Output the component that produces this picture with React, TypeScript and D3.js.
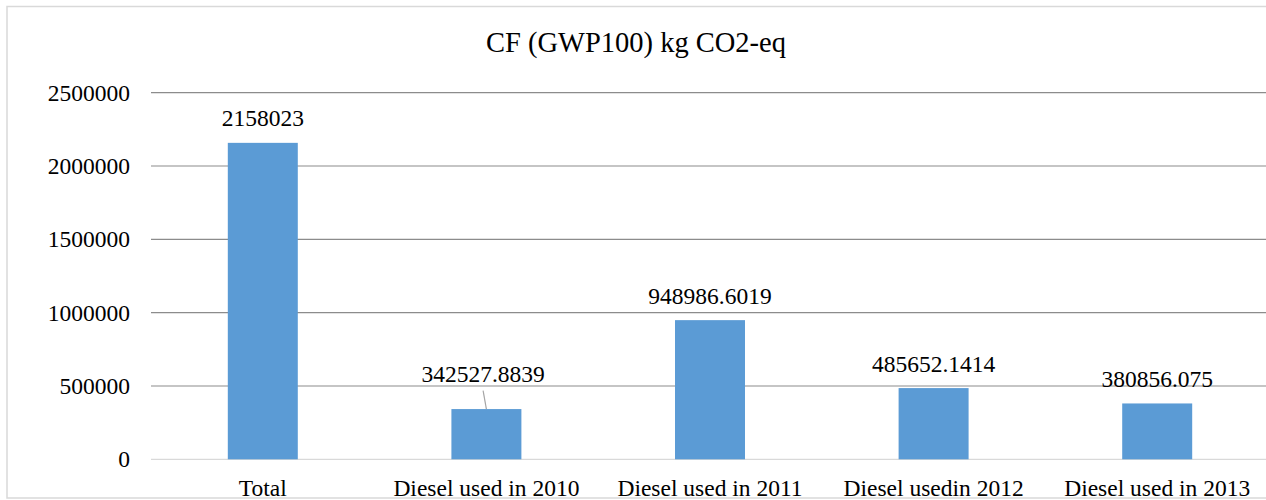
import React from "react";
import * as d3 from "d3";

const categories = [
  "Total",
  "Diesel used in 2010",
  "Diesel used in 2011",
  "Diesel usedin 2012",
  "Diesel used in 2013",
];
const values = [2158023, 342527.8839, 948986.6019, 485652.1414, 380856.075];
const valueLabels = ["2158023", "342527.8839", "948986.6019", "485652.1414", "380856.075"];
const yTicks = [0, 500000, 1000000, 1500000, 2000000, 2500000];
const title = "CF (GWP100) kg CO2-eq";

const W = 1266;
const H = 500;
const FONT = "'Liberation Serif', 'Times New Roman', serif";

export default function App() {
  const x = d3
    .scaleBand<string>()
    .domain(categories)
    .range([151, 1269])
    .paddingInner(0.687)
    .paddingOuter(0.3435);
  const y = d3.scaleLinear().domain([0, 2500000]).range([459.3, 92.7]);

  return (
    <svg
      width={W}
      height={H}
      style={{ position: "absolute", left: 0, top: 0, display: "block", background: "#fff" }}
    >
      {/* chart frame */}
      <rect x={7} y={6.5} width={W + 20} height={491.5} fill="#fff" stroke="#d9d9d9" strokeWidth={1.5} />

      <text x={636} y={51.5} textAnchor="middle" fontFamily={FONT} fontSize={28.5} fill="#000">
        {title}
      </text>

      {/* gridlines and y tick labels */}
      {yTicks.map((t) => (
        <g key={t}>
          <line
            x1={151}
            x2={W + 10}
            y1={y(t)}
            y2={y(t)}
            stroke={t === 0 ? "#d9d9d9" : "#8c8c8c"}
            strokeWidth={1.2}
          />
          <text
            x={130}
            y={y(t)}
            dy="0.34em"
            textAnchor="end"
            fontFamily={FONT}
            fontSize={23.5}
            fill="#000"
          >
            {t}
          </text>
        </g>
      ))}

      {/* bars */}
      {categories.map((c, i) => (
        <rect
          key={c}
          x={x(c)}
          y={y(values[i])}
          width={x.bandwidth()}
          height={y(0) - y(values[i])}
          fill="#5b9bd5"
        />
      ))}

      {/* value labels; the 2010 label sits higher with a leader line */}
      {categories.map((c, i) => {
        const cx = (x(c) as number) + x.bandwidth() / 2;
        const top = y(values[i]);
        const lifted = i === 1;
        const lx = lifted ? cx - 3.3 : cx;
        const ly = lifted ? top - 27.5 : top - 16.5;
        return (
          <g key={c}>
            {lifted && (
              <line x1={lx} y1={ly + 9} x2={cx} y2={top} stroke="#a6a6a6" strokeWidth={1.2} />
            )}
            <text x={lx} y={ly} textAnchor="middle" fontFamily={FONT} fontSize={23.5} fill="#000">
              {valueLabels[i]}
            </text>
          </g>
        );
      })}

      {/* category labels */}
      {categories.map((c) => (
        <text
          key={c}
          x={(x(c) as number) + x.bandwidth() / 2}
          y={496}
          textAnchor="middle"
          fontFamily={FONT}
          fontSize={23.5}
          fill="#000"
        >
          {c}
        </text>
      ))}
    </svg>
  );
}
